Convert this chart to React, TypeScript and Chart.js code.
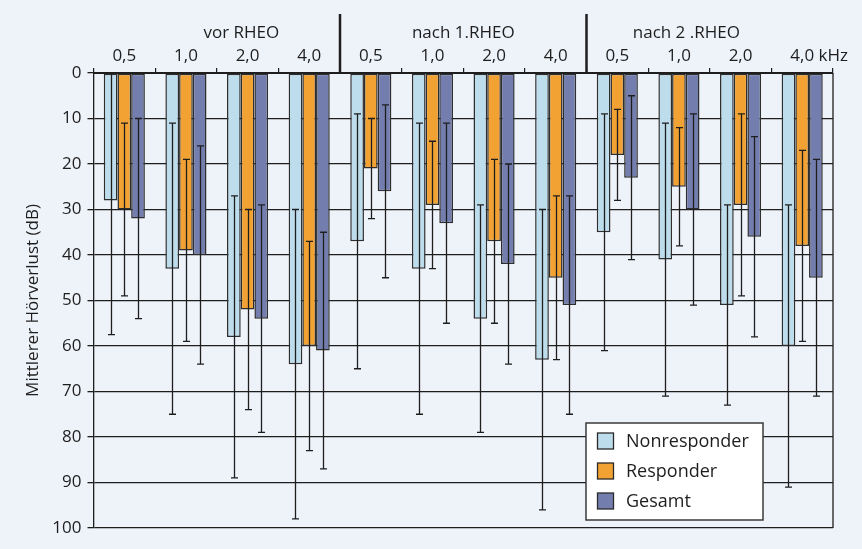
import React, { useEffect, useRef } from "react";
import { Chart, registerables } from "chart.js";

Chart.register(...registerables);

// ---------- data ----------
const CATEGORIES = ["0,5", "1,0", "2,0", "4,0", "0,5", "1,0", "2,0", "4,0", "0,5", "1,0", "2,0", "4,0"];
const UNIT = "kHz";
const GROUPS = ["vor RHEO", "nach 1.RHEO", "nach 2 .RHEO"];
const GROUP_LABEL_POS = [1.9, 5.5, 9.12];
const GROUP_SEPARATORS = [3.5, 7.5];

const SERIES_NAMES = ["Nonresponder", "Responder", "Gesamt"];
const NONRESP_MEAN = [28, 43, 58, 64, 37, 43, 54, 63, 35, 41, 51, 60];
const NONRESP_SD = [29.5, 32, 31, 34, 28, 32, 25, 33, 26, 30, 22, 31];
const RESP_MEAN = [30, 39, 52, 60, 21, 29, 37, 45, 18, 25, 29, 38];
const RESP_SD = [19, 20, 22, 23, 11, 14, 18, 18, 10, 13, 20, 21];
const TOTAL_MEAN = [32, 40, 54, 61, 26, 33, 42, 51, 23, 30, 36, 45];
const TOTAL_SD = [22, 24, 25, 26, 19, 22, 22, 24, 18, 21, 22, 26];

const Y_MIN = 0;
const Y_MAX = 100;
const Y_STEP = 10;
const Y_TITLE = "Mittlerer Hörverlust (dB)";

// ---------- styles ----------
const COLORS = ["#BEDDEC", "#F2A233", "#737EAE"];
const BG = "#EEF2F9";
const INK = "#1E1E1E";
const FONT = "'Open Sans', 'DejaVu Sans', sans-serif";

const SDS = [NONRESP_SD, RESP_SD, TOTAL_SD];

const errorBarPlugin = {
  id: "errorBars",
  afterDatasetsDraw(chart: any) {
    const { ctx, chartArea, scales } = chart;
    const y = scales.y;
    ctx.save();
    ctx.beginPath();
    ctx.rect(chartArea.left, chartArea.top - 1, chartArea.right - chartArea.left, chartArea.bottom - chartArea.top + 2);
    ctx.clip();
    ctx.strokeStyle = INK;
    ctx.lineWidth = 1.3;
    chart.data.datasets.forEach((ds: any, i: number) => {
      const meta = chart.getDatasetMeta(i);
      meta.data.forEach((el: any, j: number) => {
        const m = ds.data[j];
        const sd = SDS[i][j];
        const x = Math.round(el.x) + 0.5;
        const y1 = y.getPixelForValue(m - sd);
        const y2 = y.getPixelForValue(m + sd);
        ctx.beginPath();
        ctx.moveTo(x, y1);
        ctx.lineTo(x, y2);
        ctx.moveTo(x - 3.5, y1);
        ctx.lineTo(x + 3.5, y1);
        ctx.moveTo(x - 3.5, y2);
        ctx.lineTo(x + 3.5, y2);
        ctx.stroke();
      });
    });
    ctx.restore();
  },
};

const decorPlugin = {
  id: "decor",
  beforeDraw(chart: any) {
    const { ctx, width, height } = chart;
    ctx.save();
    ctx.fillStyle = BG;
    ctx.fillRect(0, 0, width, height);
    ctx.restore();
  },
  afterDraw(chart: any) {
    const { ctx, chartArea, scales } = chart;
    const x = scales.x;
    ctx.save();
    // right frame line
    ctx.strokeStyle = INK;
    ctx.lineWidth = 1.3;
    ctx.beginPath();
    ctx.moveTo(chartArea.right, chartArea.top);
    ctx.lineTo(chartArea.right, chartArea.bottom);
    ctx.stroke();

    // group separators
    ctx.lineWidth = 2.5;
    GROUP_SEPARATORS.forEach((p) => {
      const px = x.getPixelForValue(p);
      ctx.beginPath();
      ctx.moveTo(px, 14);
      ctx.lineTo(px, chartArea.top);
      ctx.stroke();
    });

    // category labels
    ctx.fillStyle = INK;
    ctx.font = `17px ${FONT}`;
    ctx.textBaseline = "alphabetic";
    CATEGORIES.forEach((c, i) => {
      const px = x.getPixelForValue(i);
      ctx.textAlign = "center";
      ctx.fillText(c, px, 61);
      if (i === CATEGORIES.length - 1) {
        const w = ctx.measureText(c).width;
        ctx.textAlign = "left";
        ctx.fillText(" " + UNIT, px + w / 2, 61);
      }
    });
    // group labels
    ctx.textAlign = "center";
    GROUPS.forEach((g, i) => {
      ctx.fillText(g, x.getPixelForValue(GROUP_LABEL_POS[i]), 37.5);
    });

    // legend
    const bw = 177;
    const bh = 97;
    const bx = chartArea.right - 70 - bw;
    const by = chartArea.bottom - 8 - bh;
    ctx.fillStyle = "#FFFFFF";
    ctx.fillRect(bx, by, bw, bh);
    ctx.strokeStyle = "#3A3A3A";
    ctx.lineWidth = 1.5;
    ctx.strokeRect(bx, by, bw, bh);
    ctx.font = `18px ${FONT}`;
    ctx.textAlign = "left";
    ctx.textBaseline = "middle";
    chart.data.datasets.forEach((ds: any, i: number) => {
      const cy = by + 18 + i * 30;
      ctx.fillStyle = ds.backgroundColor;
      ctx.fillRect(bx + 11.5, cy - 8, 16, 16);
      ctx.strokeStyle = "#2A2A2A";
      ctx.lineWidth = 1.3;
      ctx.strokeRect(bx + 11.5, cy - 8, 16, 16);
      ctx.fillStyle = INK;
      ctx.fillText(ds.label, bx + 40, cy + 1);
    });
    ctx.restore();
  },
};

export default function App() {
  const ref = useRef<HTMLCanvasElement | null>(null);

  useEffect(() => {
    document.body.style.margin = "0";
    document.body.style.background = BG;
    const canvas = ref.current;
    if (!canvas) return;
    const means = [NONRESP_MEAN, RESP_MEAN, TOTAL_MEAN];
    const chart = new Chart(canvas, {
      type: "bar",
      data: {
        labels: CATEGORIES,
        datasets: SERIES_NAMES.map((name, i) => ({
          label: name,
          data: means[i],
          backgroundColor: COLORS[i],
          borderColor: "#2E2E2E",
          borderWidth: 1.5,
          borderSkipped: false,
          barPercentage: 1,
          categoryPercentage: 0.667,
        })),
      },
      options: {
        responsive: false,
        animation: false,
        maintainAspectRatio: false,
        layout: { padding: { right: 29, bottom: 21, top: 0, left: 0 } },
        plugins: {
          legend: { display: false },
          tooltip: { enabled: false },
        },
        scales: {
          x: {
            type: "category",
            position: "top",
            offset: true,
            afterFit: (s: any) => {
              s.height = 73;
            },
            ticks: { display: false },
            grid: {
              offset: true,
              drawOnChartArea: false,
              drawTicks: true,
              tickLength: 5,
              color: INK,
              lineWidth: 1.2,
            },
            border: { display: true, color: INK, width: 2 },
          },
          y: {
            type: "linear",
            reverse: true,
            min: Y_MIN,
            max: Y_MAX,
            afterFit: (s: any) => {
              s.width = 93.5;
            },
            ticks: {
              stepSize: Y_STEP,
              color: INK,
              padding: 6,
              font: { family: FONT, size: 17 },
            },
            grid: {
              color: INK,
              lineWidth: 1.3,
              tickLength: 6,
            },
            border: { display: true, color: INK, width: 1.3 },
            title: {
              display: true,
              text: Y_TITLE,
              color: INK,
              font: { family: FONT, size: 17 },
              padding: { top: 23, bottom: 0 },
            },
          },
        },
      },
      plugins: [errorBarPlugin, decorPlugin],
    });
    return () => chart.destroy();
  }, []);

  return (
    <div style={{ width: 862, height: 549, background: BG }}>
      <canvas ref={ref} width={862} height={549} style={{ display: "block" }} />
    </div>
  );
}
